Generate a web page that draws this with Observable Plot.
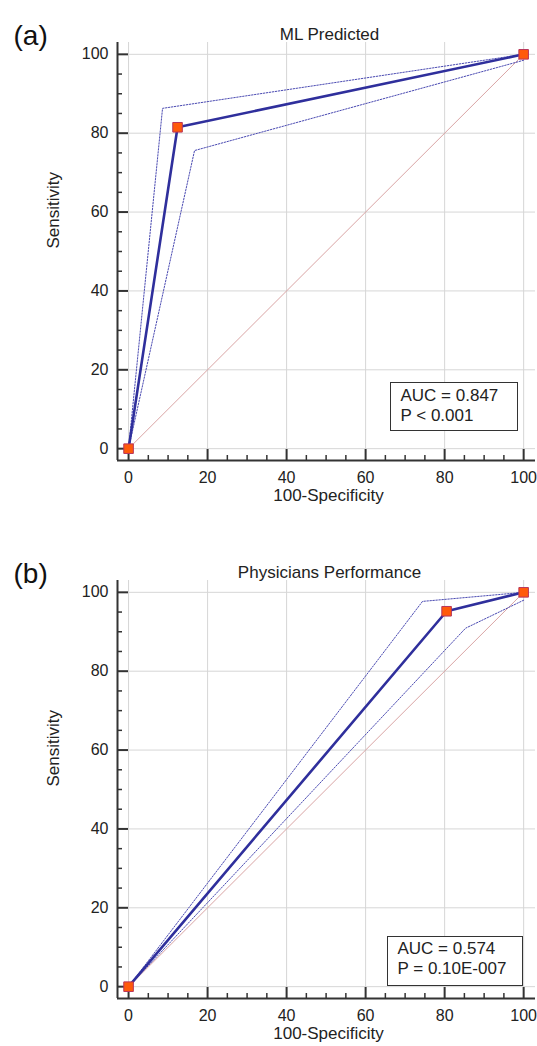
<!DOCTYPE html>
<html><head><meta charset="utf-8">
<script src="https://cdn.jsdelivr.net/npm/d3@7"></script>
<script src="https://cdn.jsdelivr.net/npm/@observablehq/plot@0.6"></script>
<style>
body{margin:0;background:#fff;font-family:"Liberation Sans",Arial,sans-serif;}
.panel{position:relative;width:537px;}
.panel svg{display:block;overflow:visible}
.legend{position:absolute;border:1.5px solid #333;background:#fff;color:#222;font-size:17px;line-height:20px;box-sizing:border-box;white-space:nowrap}
</style></head><body><div id="chart"></div>
<script>
// tick labels
const xTicks = [0, 20, 40, 60, 80, 100];
const yTicks = [0, 20, 40, 60, 80, 100];
const minorTicks = [5, 10, 15, 25, 30, 35, 45, 50, 55, 65, 70, 75, 85, 90, 95];
const xDomain = [-2.8, 103];
const yDomain = [-3, 103];

// panel texts
const panelLabels = ["(a)", "(b)"];
const titles = ["ML Predicted", "Physicians Performance"];
const aucTexts = ["AUC = 0.847", "AUC = 0.574"];
const pTexts = ["P < 0.001", "P = 0.10E-007"];

// reference diagonal
const diagX = [0, 100];
const diagY = [0, 100];

// (a) ML Predicted: ROC points (100-Specificity, Sensitivity) and CI bounds
const rocXa = [0, 12.4, 100];
const rocYa = [0, 81.5, 100];
const upXa = [0, 8.6, 100];
const upYa = [0, 86.3, 100];
const loXa = [0, 16.7, 100];
const loYa = [0, 75.6, 98.5];

// (b) Physicians Performance
const rocXb = [0, 80.5, 100];
const rocYb = [0, 95.2, 100];
const upXb = [0, 74.4, 100];
const upYb = [0, 97.7, 100];
const loXb = [0, 85.3, 100];
const loYb = [0, 90.9, 98];

const zip = (xs, ys) => xs.map((x, i) => ({x, y: ys[i]}));

const panels = [
  {roc: zip(rocXa, rocYa), up: zip(upXa, upYa), lo: zip(loXa, loYa), height: 538, mb: 78,
   legend: {left: 390, top: 382, width: 128, height: 49, pt: 2.5}},
  {roc: zip(rocXb, rocYb), up: zip(upXb, upYb), lo: zip(loXb, loYb), height: 508, mb: 48,
   legend: {left: 387, top: 398, width: 136, height: 50, pt: 1.5}}
];

const blue = "#2f2f9c";
const ciBlue = "#4a4ab2";
const root = document.getElementById("chart");

panels.forEach((p, i) => {
  const marginTop = 42;
  const plotH = p.height - marginTop - p.mb;
  const plotW = 537 - 117 - 2;
  const svg = Plot.plot({
    width: 537,
    height: p.height,
    marginLeft: 117,
    marginRight: 2,
    marginTop,
    marginBottom: p.mb,
    x: {domain: xDomain},
    y: {domain: yDomain},
    style: {fontFamily: "'Liberation Sans', Arial, sans-serif", fontSize: "16px", color: "#222", background: "#fff", overflow: "visible"},
    marks: [
      Plot.gridX(xTicks, {stroke: "#d6d6d6", strokeOpacity: 1, strokeWidth: 1}),
      Plot.gridY(yTicks, {stroke: "#d6d6d6", strokeOpacity: 1, strokeWidth: 1}),
      Plot.line(zip(diagX, diagY), {x: "x", y: "y", stroke: "#d9a4a4", strokeWidth: 1}),
      Plot.line(p.up, {x: "x", y: "y", stroke: ciBlue, strokeWidth: 1, strokeDasharray: "1.5,1.5"}),
      Plot.line(p.lo, {x: "x", y: "y", stroke: ciBlue, strokeWidth: 1, strokeDasharray: "1.5,1.5"}),
      Plot.line(p.roc, {x: "x", y: "y", stroke: blue, strokeWidth: 2.6}),
      // axis lines
      Plot.ruleX([xDomain[0]], {stroke: "#333", strokeWidth: 2}),
      Plot.ruleY([yDomain[0]], {stroke: "#333", strokeWidth: 2}),
      // inward ticks
      Plot.tickX(xTicks, {x: d => d, stroke: "#333", strokeWidth: 2, insetTop: plotH - 11}),
      Plot.tickX(minorTicks, {x: d => d, stroke: "#333", strokeWidth: 1.5, insetTop: plotH - 5}),
      Plot.tickY(yTicks, {y: d => d, stroke: "#333", strokeWidth: 2, insetRight: plotW - 11}),
      Plot.tickY(minorTicks, {y: d => d, stroke: "#333", strokeWidth: 1.5, insetRight: plotW - 5}),
      Plot.axisX(xTicks, {tickSize: 0, tickPadding: 11, label: null, fontSize: 16, tickFormat: d => d}),
      Plot.axisY(yTicks, {tickSize: 0, tickPadding: 9, label: null, fontSize: 16, tickFormat: d => d}),
      // markers
      Plot.dot(p.roc, {x: "x", y: "y", symbol: "square", r: 5.4, fill: "#ff5a0a", stroke: "#b8345a", strokeWidth: 1}),
      // texts
      Plot.text([panelLabels[i]], {frameAnchor: "top-left", dx: -104, dy: -17, textAnchor: "start", fontSize: 28, fill: "#111"}),
      Plot.text([titles[i]], {frameAnchor: "top", dx: 3, dy: -15, fontSize: 17, fill: "#222"}),
      Plot.text(["Sensitivity"], {frameAnchor: "left", dx: -64, dy: -3, rotate: -90, fontSize: 17, fill: "#222"}),
      Plot.text(["100-Specificity"], {frameAnchor: "bottom", dx: 2, dy: 40, fontSize: 17, fill: "#222"})
    ]
  });
  const div = document.createElement("div");
  div.className = "panel";
  div.appendChild(svg);
  const lg = document.createElement("div");
  lg.className = "legend";
  Object.assign(lg.style, {
    left: p.legend.left + "px", top: p.legend.top + "px",
    width: p.legend.width + "px", height: p.legend.height + "px",
    padding: p.legend.pt + "px 0 0 9.5px"
  });
  lg.innerHTML = aucTexts[i] + "<br>" + pTexts[i];
  div.appendChild(lg);
  root.appendChild(div);
});
</script></body></html>
